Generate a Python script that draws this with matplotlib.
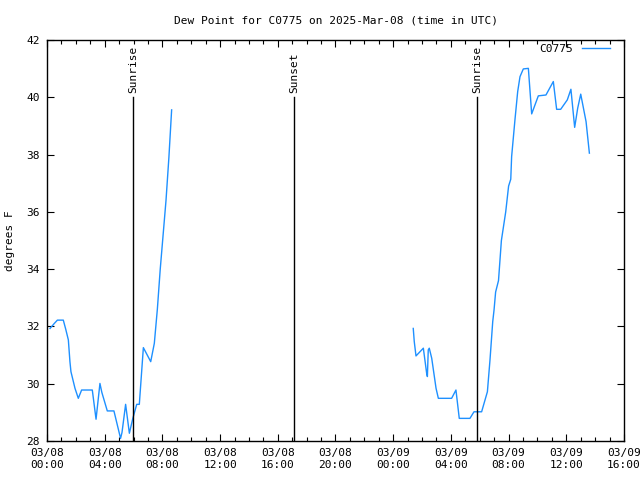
import matplotlib
matplotlib.use("Agg")
import matplotlib.pyplot as plt
import matplotlib.dates as mdates
import numpy as np
import pandas as pd

plt.rcParams['font.family'] = ['DejaVu Sans Mono']
plt.rcParams['font.size'] = 8

start = pd.Timestamp("2025-03-08 00:00")

# hours after 03/08 00:00 UTC, dew point (F); NaN marks the data gap
hours = [0.21, 0.5, 0.72, 1.13, 1.3, 1.48, 1.59, 1.66, 1.94, 2.17, 2.4, 3.14, 3.4,
         3.67, 3.8, 4.18, 4.64, 5.1, 5.2, 5.45, 5.71, 5.94, 6.22, 6.4, 6.68, 7.19,
         7.44, 7.65, 7.85, 8.05, 8.25, 8.45, 8.64,
         17.0,
         25.39, 25.46, 25.58, 26.09, 26.32, 26.37, 26.43, 26.5, 26.67, 26.97, 27.13,
         28.05, 28.35, 28.58, 29.32, 29.6, 30.13, 30.53, 30.71, 30.9, 30.99, 31.1,
         31.3, 31.5, 31.8, 32.0, 32.15, 32.21, 32.44, 32.63, 32.79, 33.02, 33.37,
         33.6, 34.06, 34.59, 35.1, 35.33, 35.61, 36.07, 36.32, 36.58, 36.79, 37.0,
         37.37, 37.6]
dewpt = [31.93, 32.1, 32.22, 32.22, 31.9, 31.53, 30.77, 30.42, 29.84, 29.49, 29.78,
         29.78, 28.76, 30.01, 29.7, 29.05, 29.05, 28.09, 28.3, 29.28, 28.27, 28.77,
         29.28, 29.28, 31.26, 30.77, 31.41, 32.6, 34.0, 35.2, 36.4, 37.9, 39.56,
         np.nan,
         31.93, 31.47, 30.97, 31.24, 30.36, 30.25, 31.18, 31.24, 30.89, 29.84, 29.49,
         29.49, 29.78, 28.79, 28.79, 29.02, 29.02, 29.72, 30.83, 32.17, 32.57, 33.2,
         33.6, 35.0, 36.0, 36.9, 37.14, 37.93, 39.21, 40.2, 40.72, 40.99, 41.01,
         39.42, 40.05, 40.08, 40.55, 39.58, 39.58, 39.91, 40.28, 38.95, 39.62, 40.11,
         39.15, 38.05]

event_hours = [5.96, 17.12, 29.83]
event_names = ["Sunrise", "Sunset", "Sunrise"]

times = [start + pd.Timedelta(hours=h) for h in hours]

fig = plt.figure(figsize=(6.4, 4.8), dpi=100)
ax = fig.add_axes([47/640, 39/480, 577/640, 401/480])

ax.plot(times, dewpt, color='#1e90ff', linewidth=1, label="C0775")

for h, name in zip(event_hours, event_names):
    t = start + pd.Timedelta(hours=h)
    ax.plot([t, t], [28, 40], color='black', linewidth=1)
    ax.text(t, 40.15, name, rotation=90, ha='center', va='bottom', fontsize=8)

ax.set_xlim(start, start + pd.Timedelta(hours=40))
ax.set_ylim(28, 42)
ax.set_yticks(np.arange(28, 43, 2))

ax.xaxis.set_major_locator(mdates.HourLocator(byhour=range(0, 24, 4)))
ax.xaxis.set_minor_locator(mdates.HourLocator())
ax.xaxis.set_major_formatter(mdates.DateFormatter("%m/%d\n%H:%M"))

ax.tick_params(which='both', direction='in', top=True, right=True, labelsize=8)
ax.tick_params(which='major', length=5, width=0.8, pad=5)
ax.tick_params(which='minor', length=3, width=0.8)

for s in ax.spines.values():
    s.set_linewidth(1)

ax.set_title("Dew Point for C0775 on 2025-Mar-08 (time in UTC)", fontsize=8, pad=12)
ax.set_ylabel("degrees F", fontsize=8, labelpad=8)

ax.legend(loc='upper right', frameon=False, handlelength=2.5, fontsize=8,
          markerfirst=False, borderaxespad=0, bbox_to_anchor=(0.983, 1.002))

fig.savefig("out.png", dpi=100)
